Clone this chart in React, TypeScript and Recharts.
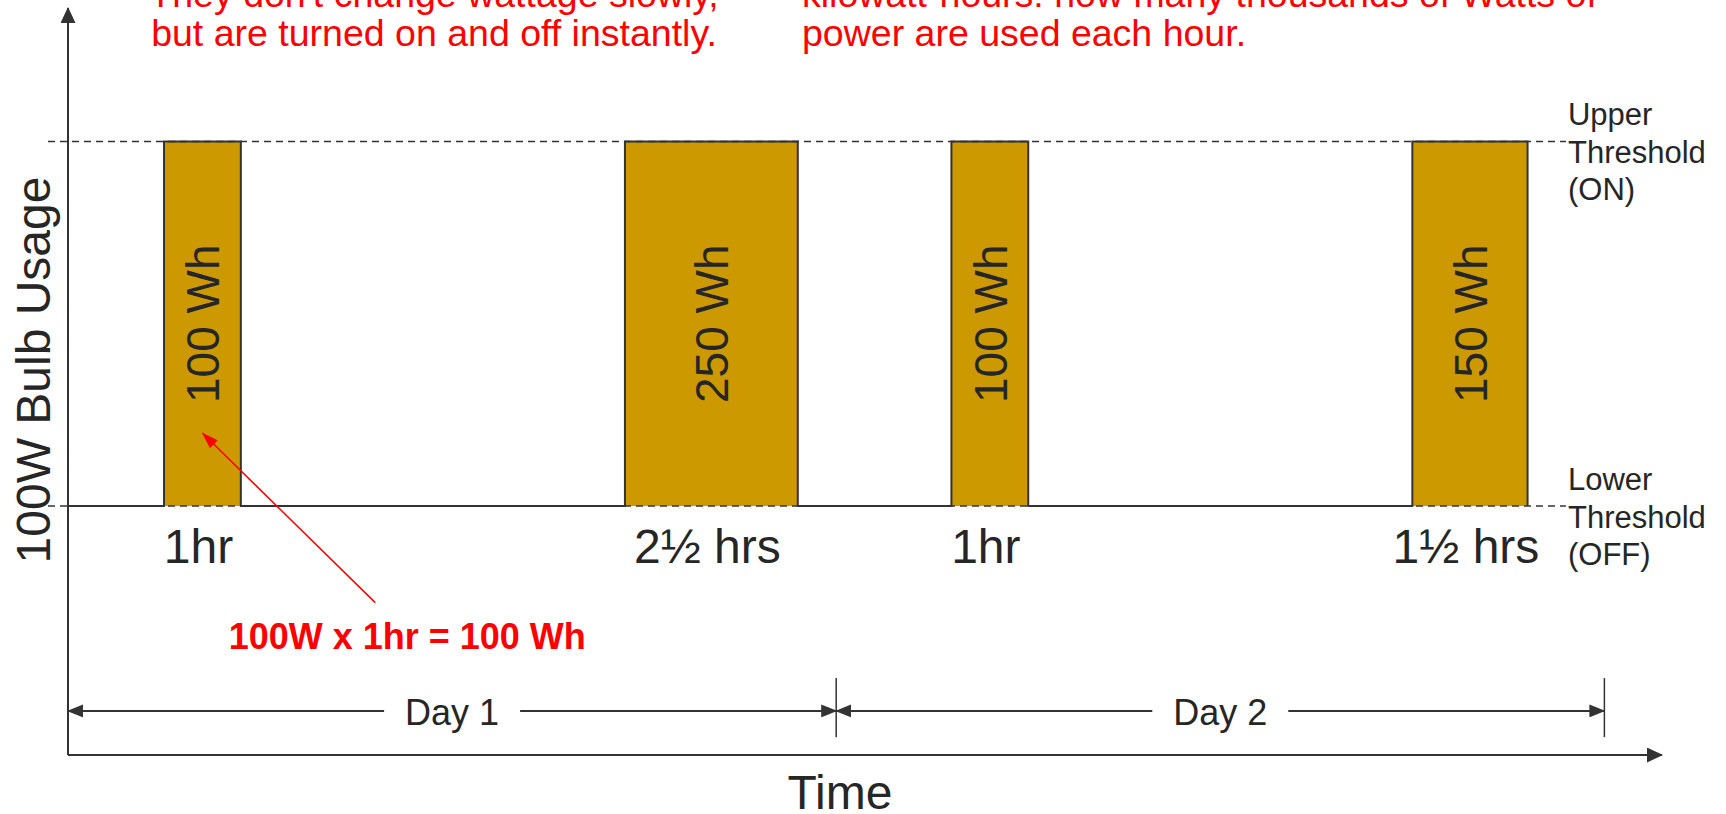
import React from 'react';
import {
  ComposedChart,
  Area,
  XAxis,
  YAxis,
  ReferenceLine,
  ReferenceArea,
} from 'recharts';

// bulb switched on / off (hours from the start of day 1)
const onTimes = [3.0, 17.4, 27.6, 42.0];
const offTimes = [5.4, 22.8, 30.0, 45.6];
const energyLabels = ['100 Wh', '250 Wh', '100 Wh', '150 Wh'];
const durationLabels = ['1hr', '2½ hrs', '1hr', '1½ hrs'];

const dayBounds = [0, 24, 48];
const dayLabels = ['Day 1', 'Day 2'];

const thresholdLevels = [1, 0];
const thresholdLabels = [
  ['Upper', 'Threshold', '(ON)'],
  ['Lower', 'Threshold', '(OFF)'],
];

const noteLeft = ["They don't change wattage slowly,", 'but are turned on and off instantly.'];
const noteRight = ['kilowatt-hours: how many thousands of Watts of', 'power are used each hour.'];
const calloutText = '100W x 1hr = 100 Wh';

const X_MAX = 49.8;
const Y_MIN = -0.683;
const Y_MAX = 1.366;
const DIM_Y = -0.562;
const DIM_TICK = [-0.472, -0.634];
const DASH_X = [-0.625, 46.8];
const CALLOUT_FROM = { x: 9.6, y: -0.265 };
const CALLOUT_TO = { x: 4.2, y: 0.2 };

const FONT = '"Liberation Sans", Arial, sans-serif';
const INK = '#262626';
const LINE = '#333333';
const GOLD = '#CC9900';
const RED = '#FF0000';

const stepData: { t: number; on: number }[] = [{ t: 0, on: 0 }];
onTimes.forEach((s, i) => {
  stepData.push({ t: s, on: 1 });
  stepData.push({ t: offTimes[i], on: 0 });
});

const BarLabel = ({ viewBox, energy, duration }: any) => {
  if (!viewBox) return null;
  const { x, y, width, height } = viewBox;
  const cx = x + width / 2;
  const cy = y + height / 2;
  return (
    <g fontFamily={FONT} fill={INK}>
      <text
        transform={`translate(${cx + 17},${cy}) rotate(-90)`}
        textAnchor="middle"
        fontSize={46}
      >
        {energy}
      </text>
      <text x={cx - 4} y={y + height + 57} textAnchor="middle" fontSize={48}>
        {duration}
      </text>
    </g>
  );
};

const ThresholdLabel = ({ viewBox, lines }: any) => {
  if (!viewBox) return null;
  const x = viewBox.x + viewBox.width + 2;
  const y = viewBox.y;
  return (
    <g fontFamily={FONT} fill={INK} fontSize={31}>
      {lines.map((l: string, i: number) => (
        <text key={i} x={x} y={y - 16 + i * 37.5}>
          {l}
        </text>
      ))}
    </g>
  );
};

const DayLabel = ({ viewBox, text }: any) => {
  if (!viewBox) return null;
  const cx = viewBox.x + viewBox.width / 2;
  const cy = viewBox.y;
  return (
    <g>
      <rect x={cx - 68} y={cy - 6} width={136} height={12} fill="#fff" />
      <text x={cx} y={cy + 14} textAnchor="middle" fontSize={36} fontFamily={FONT} fill={INK}>
        {text}
      </text>
    </g>
  );
};

const CalloutLabel = ({ viewBox }: any) => {
  if (!viewBox) return null;
  const x = viewBox.x + viewBox.width;
  const y = viewBox.y + viewBox.height;
  return (
    <text
      x={x + 32}
      y={y + 46}
      textAnchor="middle"
      fontSize={36}
      fontWeight="bold"
      fontFamily={FONT}
      fill={RED}
    >
      {calloutText}
    </text>
  );
};

const TimeLabel = ({ viewBox }: any) => {
  if (!viewBox) return null;
  return (
    <text
      x={viewBox.x + 772}
      y={viewBox.y + 54}
      textAnchor="middle"
      fontSize={48}
      fontFamily={FONT}
      fill={INK}
    >
      Time
    </text>
  );
};

const UsageLabel = ({ viewBox }: any) => {
  if (!viewBox) return null;
  return (
    <text
      transform={`translate(${viewBox.x + 42},370) rotate(-90)`}
      textAnchor="middle"
      fontSize={48}
      fontFamily={FONT}
      fill={INK}
    >
      100W Bulb Usage
    </text>
  );
};

const arrowLine = (start: string | undefined, end: string | undefined) => (p: any) => (
  <line
    x1={p.x1}
    y1={p.y1}
    x2={p.x2}
    y2={p.y2}
    stroke={p.stroke}
    strokeWidth={p.strokeWidth}
    markerStart={start}
    markerEnd={end}
  />
);

const Markers = () => (
  <svg width={0} height={0} style={{ position: 'absolute' }}>
    <defs>
      <marker id="axisArrow" viewBox="0 0 16 15" refX={15} refY={7.5} markerWidth={16} markerHeight={15}
        markerUnits="userSpaceOnUse" orient="auto-start-reverse">
        <path d="M0,0 L16,7.5 L0,15 z" fill={LINE} />
      </marker>
      <marker id="dimArrow" viewBox="0 0 16 13" refX={15} refY={6.5} markerWidth={16} markerHeight={13}
        markerUnits="userSpaceOnUse" orient="auto-start-reverse">
        <path d="M0,0 L16,6.5 L0,13 z" fill={LINE} />
      </marker>
      <marker id="redArrow" viewBox="0 0 17 11" refX={16} refY={5.5} markerWidth={17} markerHeight={11}
        markerUnits="userSpaceOnUse" orient="auto-start-reverse">
        <path d="M0,0 L17,5.5 L0,11 z" fill={RED} />
      </marker>
    </defs>
  </svg>
);

const Notes = () => (
  <svg
    width={1726}
    height={814}
    style={{ position: 'absolute', left: 0, top: 0, pointerEvents: 'none' }}
    fontFamily={FONT}
    fontSize={37.5}
    fill={RED}
  >
    {noteLeft.map((l, i) => (
      <text key={'l' + i} x={434} y={7 + i * 38.5} textAnchor="middle">
        {l}
      </text>
    ))}
    {noteRight.map((l, i) => (
      <text key={'r' + i} x={802} y={7 + i * 38.5}>
        {l}
      </text>
    ))}
  </svg>
);

const App = () => {
  return (
    <div style={{ position: 'absolute', left: 0, top: 0, width: 1726, height: 814, background: '#fff' }}>
      <Markers />
      <ComposedChart
        width={1726}
        height={814}
        data={stepData}
        margin={{ top: 8, right: 64, bottom: 0, left: 8 }}
      >
        <XAxis
          type="number"
          dataKey="t"
          domain={[0, X_MAX]}
          allowDataOverflow
          tick={false}
          tickLine={false}
          height={59}
          axisLine={{ stroke: LINE, strokeWidth: 2, markerEnd: 'url(#axisArrow)' }}
          label={<TimeLabel />}
        />
        <YAxis
          type="number"
          domain={[Y_MIN, Y_MAX]}
          allowDataOverflow
          tick={false}
          tickLine={false}
          width={60}
          axisLine={{ stroke: LINE, strokeWidth: 2, markerStart: 'url(#axisArrow)' }}
          label={<UsageLabel />}
        />
        <Area
          type="stepAfter"
          dataKey="on"
          baseValue={0}
          stroke={LINE}
          strokeWidth={2}
          fill={GOLD}
          fillOpacity={1}
          dot={false}
          activeDot={false}
          isAnimationActive={false}
        />
        {thresholdLevels.map((lv, i) => (
          <ReferenceLine
            key={'th' + i}
            segment={[
              { x: DASH_X[0], y: lv },
              { x: DASH_X[1], y: lv },
            ]}
            ifOverflow="visible"
            stroke={LINE}
            strokeWidth={1.5}
            strokeDasharray="7 5"
            label={<ThresholdLabel lines={thresholdLabels[i]} />}
          />
        ))}
        {onTimes.map((s, i) => (
          <ReferenceArea
            key={'bar' + i}
            x1={s}
            x2={offTimes[i]}
            y1={0}
            y2={1}
            fill="none"
            fillOpacity={0}
            stroke="none"
            ifOverflow="visible"
            label={<BarLabel energy={energyLabels[i]} duration={durationLabels[i]} />}
          />
        ))}
        {dayBounds.slice(1).map((d, i) => (
          <ReferenceLine
            key={'tick' + i}
            segment={[
              { x: d, y: DIM_TICK[0] },
              { x: d, y: DIM_TICK[1] },
            ]}
            ifOverflow="visible"
            stroke={LINE}
            strokeWidth={1.5}
          />
        ))}
        {dayLabels.map((lab, i) => (
          <ReferenceLine
            key={'day' + i}
            segment={[
              { x: dayBounds[i], y: DIM_Y },
              { x: dayBounds[i + 1], y: DIM_Y },
            ]}
            ifOverflow="visible"
            stroke={LINE}
            strokeWidth={2}
            shape={arrowLine('url(#dimArrow)', 'url(#dimArrow)')}
            label={<DayLabel text={lab} />}
          />
        ))}
        <ReferenceLine
          segment={[CALLOUT_FROM, CALLOUT_TO]}
          ifOverflow="visible"
          stroke={RED}
          strokeWidth={1.5}
          shape={arrowLine(undefined, 'url(#redArrow)')}
          label={<CalloutLabel />}
        />
      </ComposedChart>
      <Notes />
    </div>
  );
};

export default App;
